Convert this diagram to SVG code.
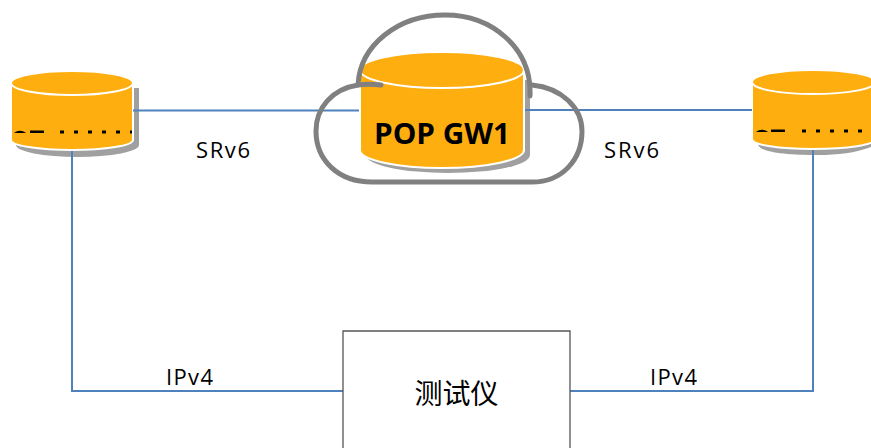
<svg xmlns="http://www.w3.org/2000/svg" width="871" height="448" viewBox="0 0 871 448">
<style>
text{font-family:"Open Sans","Noto Sans CJK SC",sans-serif;fill:#000}
.lbl{font-size:22px}
.c{fill:none;stroke:#4f81bd;stroke-width:2}
.body{fill:#ffae0f;stroke:#fff;stroke-width:2}
.shadow{fill:#a0a0a0}
.rim{fill:none;stroke:#fff;stroke-width:2}
.dash{stroke:#000;stroke-width:3;stroke-dasharray:4 10;fill:none}
</style>
<rect width="871" height="448" fill="#fff"/>
<g id="node-left">
<path class="shadow" d="M17 88H139V145A61.500 12 0 0 1 16 145Z"/>
<path class="body" d="M11 83A61 12 0 0 1 133 83V140A61 10 0 0 1 11 140Z"/>
<path class="rim" d="M11 83A61 12 0 0 0 133 83"/>
<path d="M14 133C18 130 22 130 26 133ZM30 130.500H44V133H30Z" fill="#000"/>
<path class="dash" d="M60 132H132"/>
</g>
<g id="node-right">
<path class="shadow" d="M758 88H871V147C855 153 838 155 818 155C785 155 758 152 758 144Z"/>
<path class="body" d="M752 82C752 75 780 70 813 70C847 70 875 75 875 82V139C875 145 847 149 813 149C780 149 752 145 752 139Z"/>
<path class="rim" d="M752 82C752 89 780 94 813 94C847 94 875 89 875 82"/>
<path d="M756 132C760 129 764 129 768 132ZM771 129.500H785V132H771Z" fill="#000"/>
<path class="dash" d="M802 131H871"/>
</g>
<g id="connectors">
<path class="c" d="M133 110.500H360"/>
<path class="c" d="M531 110H752"/>
<path class="c" d="M72 151V391H343"/>
<path class="c" d="M813 150V391H570"/>
</g>
<g id="node-gw">
<path class="shadow" d="M366 80H530V155A82 18 0 0 1 366 155Z"/>
<path class="c" d="M524 110H531"/>
<path class="body" d="M360 70A82 18 0 0 1 524 70V150A82 18 0 0 1 360 150Z"/>
<path class="rim" d="M360 70A82 18 0 0 0 524 70"/>
<text x="442" y="144" text-anchor="middle" font-size="29" font-weight="700" textLength="136" lengthAdjust="spacingAndGlyphs">POP GW1</text>
<path fill="none" stroke="#808080" stroke-width="5" stroke-linecap="round" d="M381 85C372 84 365 84 358 85C332 89 316 108 316 131C316 160 338 182 372 182H532C562 182 582 160 582 131C582 108 562 88 532 85"/>
<path fill="none" stroke="#808080" stroke-width="5" stroke-linecap="round" d="M358 85C360 45 398 15 445 15C492 15 532 48 530 96"/>
</g>
<g id="node-tester">
<path fill="#fff" stroke="#555" stroke-width="1.300" d="M343 448V331H570V448"/>
<text x="456.500" y="404" text-anchor="middle" font-size="28" style="font-family:'Noto Sans CJK SC',sans-serif">测试仪</text>
</g>
<g id="labels">
<text class="lbl" x="196" y="158" textLength="54">SRv6</text>
<text class="lbl" x="604" y="158" textLength="55">SRv6</text>
<text class="lbl" x="166" y="385" textLength="47">IPv4</text>
<text class="lbl" x="650" y="385" textLength="47">IPv4</text>
</g>
</svg>
